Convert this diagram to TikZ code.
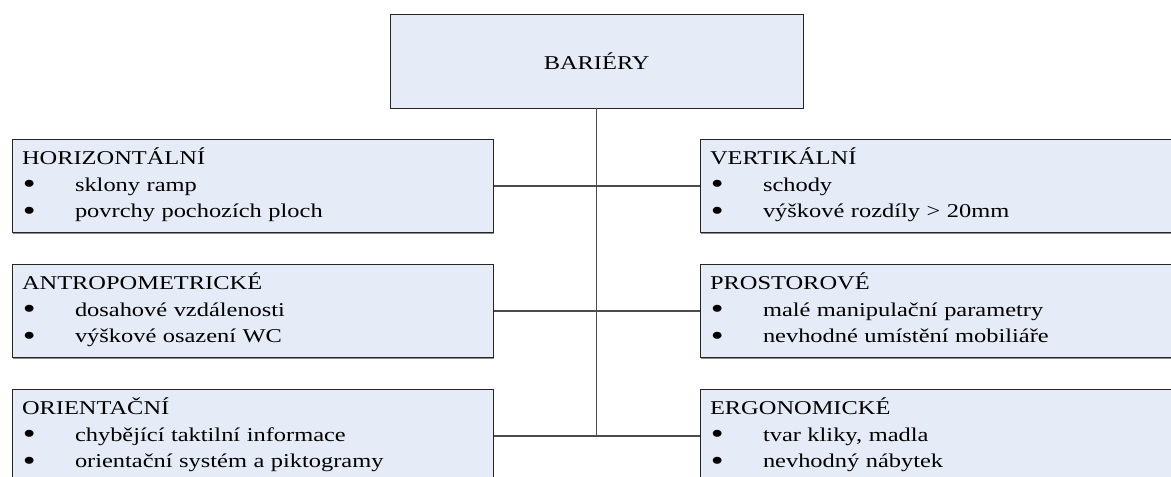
\documentclass[tikz,border=0pt]{standalone}
\usepackage{xcolor}
\usepackage{fontspec}
\setmainfont{Liberation Serif}[FakeStretch=1.25]
\usepackage{tikz}
\usetikzlibrary{shadows}

\definecolor{boxblue}{HTML}{E5ECF7}
\newcommand{\itm}{\makebox[1.325cm][l]{\hspace*{0.02cm}\raisebox{-0.13em}{\scalebox{1.5}{\textbullet}}}}

\tikzset{
    box/.style={draw=black!85, line width=0.7pt, fill=boxblue,
        drop shadow={shadow xshift=0.4pt, shadow yshift=-1pt, fill=black!45, opacity=1},
        font=\fontsize{13.9}{18.85}\selectfont},
    branch/.style={box, align=left, inner xsep=0.25cm, inner ysep=0pt,
        text width=11.54cm, minimum width=12.04cm, minimum height=2.335cm,
        execute at begin node=\strut, execute at end node=\strut},
    link/.style={draw=black!70, line width=1pt}
}

\begin{document}
\begin{tikzpicture}
            \clip (0, 0) rectangle (29.275, -11.925);

            % \node [box] (bar) at (14.92, -1.5) {BARIÉRY};
            \node [box, minimum width=10.33cm, minimum height=2.35cm] (bar) at (14.917, -1.525) {BARIÉRY};

            \node [branch] (hor) at (6.32, -4.65) {HORIZONTÁLNÍ\\ \itm sklony ramp\\ \itm povrchy pochozích ploch};
            \node [branch] (ant) at (6.32, -7.775) {ANTROPOMETRICKÉ\\ \itm dosahové vzdálenosti\\ \itm výškové osazení WC};
            \node [branch] (ori) at (6.32, -10.9) {ORIENTAČNÍ\\ \itm chybějící taktilní informace\\ \itm orientační systém a piktogramy};

            \node [branch] (ver) at (23.52, -4.65) {VERTIKÁLNÍ\\ \itm schody\\ \itm výškové rozdíly > 20mm};
            \node [branch] (pro) at (23.52, -7.775) {PROSTOROVÉ\\ \itm malé manipulační parametry\\ \itm nevhodné umístění mobiliáře};
            \node [branch] (erg) at (23.52, -10.9) {ERGONOMICKÉ\\ \itm tvar kliky, madla\\ \itm nevhodný nábytek};

            \draw [link] (bar.south) to (bar.south |- ori.east);
            \draw [link] (hor.east) to (ver.west);
            \draw [link] (ant.east) to (pro.west);
            \draw [link] (ori.east) to (erg.west);
        \end{tikzpicture}
\end{document}
